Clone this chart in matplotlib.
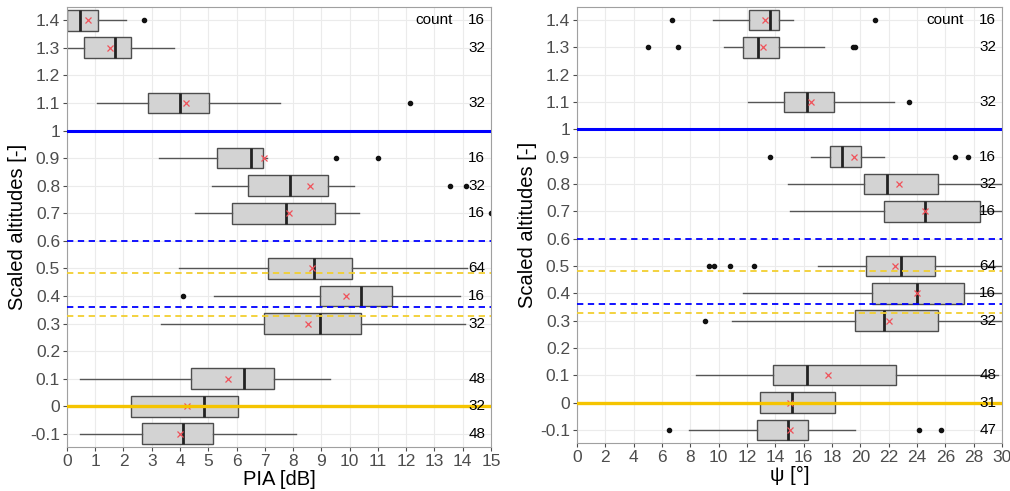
import numpy as np
import matplotlib.pyplot as plt

plt.rcParams['font.family'] = ['Liberation Sans', 'DejaVu Sans']

# DATA

levels = [1.4, 1.3, 1.1, 0.9, 0.8, 0.7, 0.5, 0.4, 0.3, 0.1, 0.0, -0.1]

# PIA [dB]
pia_q1 = [0.0, 0.59, 2.85, 5.32, 6.39, 5.84, 7.11, 8.94, 6.96, 4.39, 2.28, 2.67]
pia_med = [0.47, 1.69, 4.01, 6.52, 7.88, 7.76, 8.75, 10.40, 8.96, 6.26, 4.86, 4.10]
pia_q3 = [1.10, 2.28, 5.01, 6.95, 9.23, 9.48, 10.08, 11.50, 10.40, 7.32, 6.05, 5.17]
pia_lo = [0.0, -0.05, 1.07, 3.24, 5.12, 4.52, 3.95, 5.21, 3.33, 0.47, 0.9, 0.45]
pia_hi = [2.10, 3.79, 7.52, 7.08, 10.14, 10.33, 14.15, 13.89, 14.07, 9.32, 9.0, 8.10]
pia_mean = [0.73, 1.54, 4.22, 6.96, 8.61, 7.85, 8.67, 9.87, 8.54, 5.70, 4.25, 4.01]
pia_out = [[2.71], [], [12.15], [9.52, 10.99], [13.56, 14.13], [15.0],
           [], [4.10], [], [], [], []]
pia_n = [16, 32, 32, 16, 32, 16, 64, 16, 32, 48, 32, 48]

# psi [deg]
psi_q1 = [12.12, 11.74, 14.61, 17.84, 20.28, 21.67, 20.40, 20.82, 19.60, 13.84, 12.94, 12.71]
psi_med = [13.60, 12.75, 16.26, 18.71, 21.88, 24.59, 22.89, 24.02, 21.67, 16.26, 15.18, 14.89]
psi_q3 = [14.24, 14.26, 18.14, 20.07, 25.48, 28.45, 25.25, 27.29, 25.48, 22.52, 18.24, 16.31]
psi_lo = [9.58, 10.35, 12.07, 16.52, 14.89, 15.01, 16.99, 11.69, 10.96, 8.40, 8.5, 7.91]
psi_hi = [15.22, 17.41, 22.40, 21.65, 30.5, 30.5, 30.5, 30.5, 30.5, 29.7, 24.0, 19.65]
psi_mean = [13.25, 13.11, 16.49, 19.53, 22.75, 24.59, 22.47, 24.02, 22.05, 17.69, 15.06, 15.06]
psi_out = [[6.71, 21.01], [5.01, 7.15, 19.46, 19.6], [23.46], [13.65, 26.66, 27.6],
           [], [], [9.29, 9.69, 10.78, 12.52], [], [9.06], [], [], [6.49, 24.12, 25.67]]
psi_n = [16, 32, 32, 16, 32, 16, 64, 16, 32, 48, 31, 47]

blue_solid = [1.0]
blue_dash = [0.6, 0.36]
yellow_dash = [0.482, 0.327]
yellow_solid = [0.0]

yticks = [-0.1, 0.0, 0.1, 0.2, 0.3, 0.4, 0.5, 0.6, 0.7, 0.8, 0.9, 1.0, 1.1, 1.2, 1.3, 1.4]


def make_stats(q1, med, q3, lo, hi, mean, out):
    stats = []
    for i in range(len(q1)):
        stats.append(dict(q1=q1[i], med=med[i], q3=q3[i], whislo=lo[i],
                          whishi=hi[i], mean=mean[i], fliers=out[i]))
    return stats


def draw_panel(ax, stats, counts, xmax, xstep, count_x, word_x, xlabel):
    ax.bxp(stats, positions=levels, widths=0.075, orientation='horizontal',
           showmeans=True, showcaps=False, patch_artist=True,
           boxprops=dict(facecolor='#d3d3d3', edgecolor='#4d4d4d', linewidth=1.0),
           whiskerprops=dict(color='#555555', linewidth=1.0),
           medianprops=dict(color='#222222', linewidth=2.0),
           meanprops=dict(marker='x', markeredgecolor='#f0525a', markersize=4.5,
                          markeredgewidth=0.9),
           flierprops=dict(marker='o', markerfacecolor='#111111',
                           markeredgecolor='#111111', markersize=3),
           zorder=2)

    for y in blue_solid:
        ax.axhline(y, color='#0000ff', lw=2.2, zorder=4)
    for y in blue_dash:
        ax.axhline(y, color='#0000ff', lw=1.3, ls=(0, (3.5, 2.5)), zorder=4)
    for y in yellow_dash:
        ax.axhline(y, color='#f2cf30', lw=1.3, ls=(0, (3.5, 2.5)), zorder=4)
    for y in yellow_solid:
        ax.axhline(y, color='#f5c400', lw=2.4, zorder=4)

    for y, n in zip(levels, counts):
        ax.text(count_x, y, str(n), ha='center', va='center', fontsize=11, zorder=5)
    ax.text(word_x, 1.4, 'count', ha='center', va='center', fontsize=11, zorder=5)

    ax.set_xlim(0, xmax)
    ax.set_ylim(-0.148, 1.448)
    ax.set_xticks(np.arange(0, xmax + 1, xstep))
    ax.set_yticks(yticks)
    ax.set_yticklabels(['{:g}'.format(v) for v in yticks])
    ax.grid(True, color='#ebebeb', lw=0.8, zorder=0)
    ax.set_axisbelow(True)
    for s in ax.spines.values():
        s.set_color('#a0a0a0')
    ax.tick_params(colors='#4d4d4d', labelsize=12.5, length=3, width=0.8, pad=2)
    ax.set_xlabel(xlabel, fontsize=14.5, labelpad=1)
    ax.set_ylabel('Scaled altitudes [-]', fontsize=14.5, labelpad=2)


fig = plt.figure(figsize=(10.1, 4.91), dpi=100)
ax1 = fig.add_axes([0.0663, 0.0896, 0.4198, 0.8961])
ax2 = fig.add_axes([0.5713, 0.0978, 0.4208, 0.8879])

draw_panel(ax1, make_stats(pia_q1, pia_med, pia_q3, pia_lo, pia_hi, pia_mean, pia_out),
           pia_n, 15, 1, 14.5, 13.0, 'PIA [dB]')
draw_panel(ax2, make_stats(psi_q1, psi_med, psi_q3, psi_lo, psi_hi, psi_mean, psi_out),
           psi_n, 30, 2, 29.0, 26.0, 'ψ [°]')

fig.savefig('out.png', dpi=100)
